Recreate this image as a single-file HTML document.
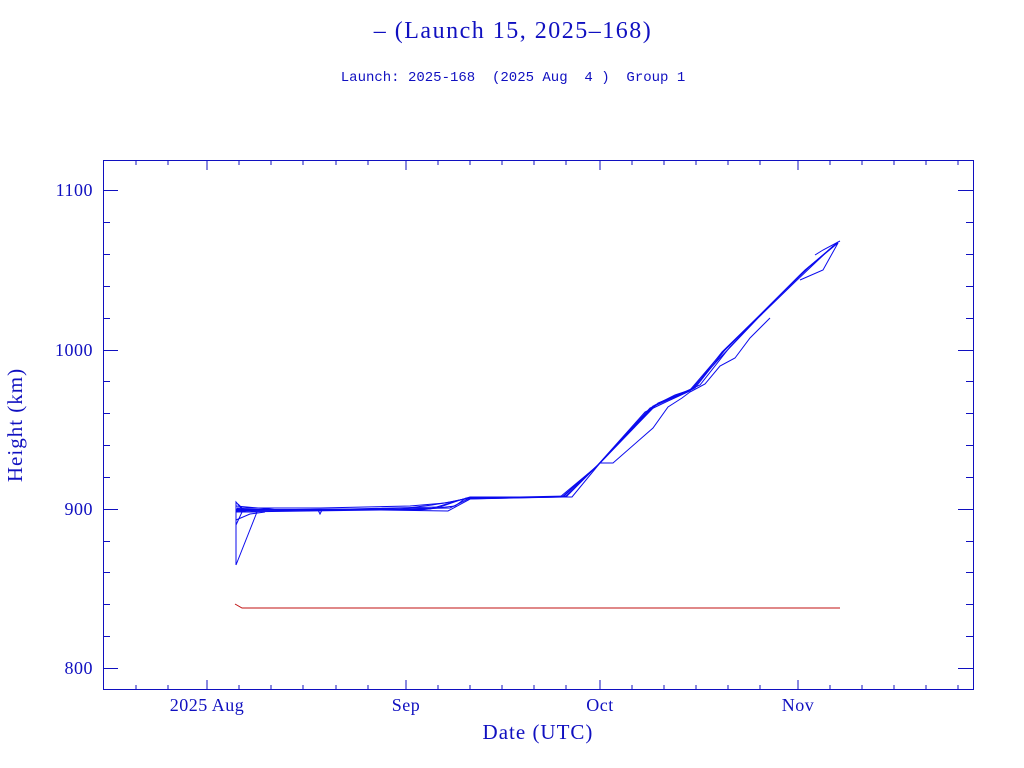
<!DOCTYPE html>
<html><head><meta charset="utf-8"><style>
html,body{margin:0;padding:0;background:#fff;width:1024px;height:768px;overflow:hidden}
svg{display:block}
text{fill:#1010c0;font-family:"Liberation Serif",serif}
</style></head><body>
<svg width="1024" height="768" viewBox="0 0 1024 768" xmlns="http://www.w3.org/2000/svg">
<text x="513" y="38" font-size="24" text-anchor="middle" letter-spacing="1.5">– (Launch 15, 2025–168)</text>
<text x="513" y="81" font-size="14" text-anchor="middle" style="font-family:'Liberation Mono',monospace;white-space:pre" xml:space="preserve">Launch: 2025-168  (2025 Aug  4 )  Group 1</text>
<g stroke="#1010c0" stroke-width="1" fill="none">
<rect x="103.5" y="160.5" width="870" height="529"/>
<path d="
M136 690v-5M168 690v-5M207 690v-10M239 690v-5M271 690v-5M303 690v-5M336 690v-5M368 690v-5M406 690v-10M438 690v-5M470 690v-5M502 690v-5M534 690v-5M566 690v-5M600 690v-10M632 690v-5M664 690v-5M696 690v-5M728 690v-5M760 690v-5M798 690v-10M830 690v-5M862 690v-5M894 690v-5M926 690v-5M958 690v-5
M136 160v5M168 160v5M207 160v10M239 160v5M271 160v5M303 160v5M336 160v5M368 160v5M406 160v10M438 160v5M470 160v5M502 160v5M534 160v5M566 160v5M600 160v10M632 160v5M664 160v5M696 160v5M728 160v5M760 160v5M798 160v10M830 160v5M862 160v5M894 160v5M926 160v5M958 160v5
M103 190.5h15M103 222.5h7M103 254.5h7M103 286.5h7M103 318.5h7M103 350.5h15M103 381.5h7M103 413.5h7M103 445.5h7M103 477.5h7M103 509.5h15M103 541.5h7M103 572.5h7M103 604.5h7M103 636.5h7M103 668.5h15
M973 190.5h-15M973 222.5h-7M973 254.5h-7M973 286.5h-7M973 318.5h-7M973 350.5h-15M973 381.5h-7M973 413.5h-7M973 445.5h-7M973 477.5h-7M973 509.5h-15M973 541.5h-7M973 572.5h-7M973 604.5h-7M973 636.5h-7M973 668.5h-15"/>
</g>
<g font-size="18" text-anchor="end" letter-spacing="0.5">
<text x="93" y="196">1100</text><text x="93" y="356">1000</text><text x="93" y="515">900</text><text x="93" y="674">800</text>
</g>
<g font-size="18" text-anchor="middle" letter-spacing="0.5">
<text x="207" y="711">2025 Aug</text><text x="406" y="711">Sep</text><text x="600" y="711">Oct</text><text x="798" y="711">Nov</text>
<text x="538" y="739" font-size="21" letter-spacing="1">Date (UTC)</text>
<text transform="translate(22,425) rotate(-90)" font-size="21" letter-spacing="1">Height (km)</text>
</g>
<g stroke="#0a0aee" stroke-width="1" fill="none">
<polyline points="236,511 430,509 470,497 565,497 600,463 655,405 675,395 690,390 720,355 760,315 800,275 838,242"/>
<polyline points="236,509 300,510 420,510 455,506 466,498 562,497 598,465 650,408 672,398 695,388 725,350 765,310 805,270 836,244"/>
<polyline points="237,510 350,509 440,507 460,500 474,497 560,497 596,467 645,412 668,401 690,391 718,360 758,318 795,282 833,246"/>
<polyline points="236,512 380,510 448,511 472,498 567,496 602,461 658,403 680,394 700,385 730,347 770,305 810,266 838,243"/>
<polyline points="236,510 390,509 450,508 468,499 563,497 599,464 653,406 677,396 693,389 722,352 762,313 802,273 837,243"/>
<polyline points="236,506 280,510 400,509 432,505 450,502 464,499 556,497"/>
<polyline points="237,508 320,508 410,506 445,503 470,498"/>
<polyline points="236,565 236,502 242,509 257,512"/>
<polyline points="236,565 257,512"/>
<polyline points="236,525 242,512 257,512"/>
<polyline points="236,520 250,514 265,512"/>
<polyline points="238,504 245,511 240,512"/>
<polyline points="560,497 572,497 600,463 613,463 653,428 668,407 682,398 690,392"/>
<polyline points="690,392 705,384 720,366 735,358 750,338 770,318"/>
<polyline points="800,280 823,270 838,243"/>
<polyline points="815,255 823,250 840,241"/>
<polyline points="318,510 320,514 322,510"/>
</g>
<polyline points="235,604 242,608 840,608" stroke="#c01010" stroke-width="1" fill="none"/>
</svg>
</body></html>
